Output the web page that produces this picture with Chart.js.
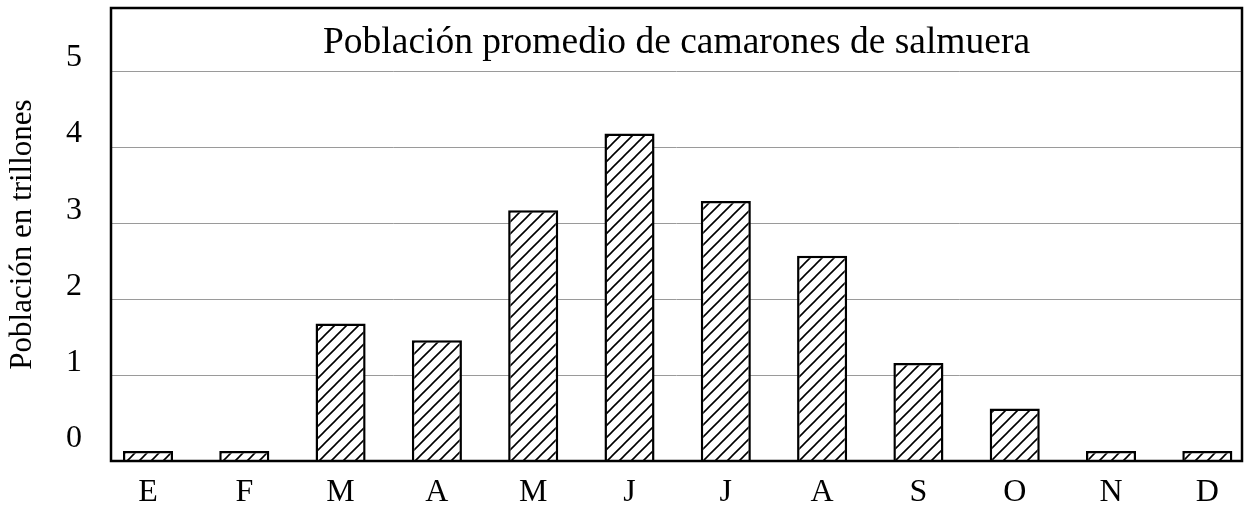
<!DOCTYPE html>
<html>
<head>
<meta charset="utf-8">
<script src="https://cdn.jsdelivr.net/npm/chart.js@4.4.1/dist/chart.umd.min.js"></script>
<style>
  html, body { margin: 0; padding: 0; background: #ffffff; }
  #wrap { width: 1246px; height: 508px; position: relative; }
</style>
</head>
<body>
<div id="wrap"><canvas id="c"></canvas></div>
<script>
// ---- Data ----
const months = ['E', 'F', 'M', 'A', 'M', 'J', 'J', 'A', 'S', 'O', 'N', 'D'];
const population = [0, 0, 1.68, 1.46, 3.17, 4.18, 3.29, 2.57, 1.16, 0.56, 0, 0];
const yTickValues = [0, 1, 2, 3, 4, 5];
const chartTitle = 'Población promedio de camarones de salmuera';
const yTitle = 'Población en trillones';

// ---- Axis ranges ----
const Y_MIN = -0.13, Y_MAX = 5.83;
const X_MIN = -0.384, X_MAX = 11.36;
const FONT = '"Liberation Serif", "Times New Roman", Times, serif';

// hatch pattern
function makeHatch() {
  const s = 12;
  const c = document.createElement('canvas');
  c.width = s; c.height = s;
  const g = c.getContext('2d');
  g.fillStyle = '#ffffff';
  g.fillRect(0, 0, s, s);
  g.strokeStyle = '#000000';
  g.lineWidth = 1.6;
  g.beginPath();
  g.moveTo(-2, s + 2); g.lineTo(s + 2, -2);
  g.moveTo(-2, 2); g.lineTo(2, -2);
  g.moveTo(s - 2, s + 2); g.lineTo(s + 2, s - 2);
  g.stroke();
  return g.createPattern(c, 'repeat');
}

const framePlugin = {
  id: 'frame',
  afterDraw(chart) {
    const { ctx, chartArea: a } = chart;
    ctx.save();
    ctx.strokeStyle = '#000';
    ctx.lineWidth = 2.5;
    ctx.strokeRect(a.left, a.top, a.right - a.left, a.bottom - a.top);
    ctx.fillStyle = '#000';
    ctx.font = '37.5px ' + FONT;
    ctx.textAlign = 'center';
    ctx.textBaseline = 'alphabetic';
    ctx.fillText(chartTitle, (a.left + a.right) / 2, a.top + 45);
    ctx.restore();
  }
};

const ctx = document.getElementById('c').getContext('2d');
new Chart(ctx, {
  type: 'bar',
  data: {
    datasets: [{
      data: population.map((v, i) => ({ x: i, y: v })),
      backgroundColor: makeHatch(),
      borderColor: '#000',
      borderWidth: 2.5,
      base: Y_MIN,
      barPercentage: 0.52,
      categoryPercentage: 1.0
    }]
  },
  options: {
    responsive: true,
    maintainAspectRatio: false,
    animation: false,
    layout: { autoPadding: false, padding: { left: 0, right: 4, top: 8, bottom: 0 } },
    plugins: {
      legend: { display: false },
      title: { display: false },
      tooltip: { enabled: false }
    },
    scales: {
      x: {
        type: 'linear',
        offset: false,
        min: X_MIN,
        max: X_MAX,
        grid: { display: false, drawTicks: false },
        border: { display: false },
        ticks: {
          stepSize: 1,
          includeBounds: false,
          autoSkip: false,
          maxRotation: 0,
          padding: 12,
          color: '#000',
          font: { family: FONT, size: 32 },
          callback: (v) => (Number.isInteger(v) && months[v] !== undefined) ? months[v] : ''
        },
        afterFit(scale) { scale.height = 47; scale.paddingLeft = 0; scale.paddingRight = 0; }
      },
      y: {
        type: 'linear',
        min: Y_MIN,
        max: Y_MAX,
        grid: {
          drawTicks: false,
          lineWidth: 1,
          color: (c) => (c.tick && c.tick.value === 0) ? 'rgba(0,0,0,0)' : '#9a9a9a'
        },
        border: { display: false },
        afterBuildTicks(scale) {
          scale.ticks = yTickValues.map(v => ({ value: v }));
        },
        ticks: {
          stepSize: 1,
          includeBounds: false,
          padding: 29,
          labelOffset: -13,
          color: '#000',
          font: { family: FONT, size: 32 },
          callback: (v) => String(v)
        },
        title: {
          display: true,
          text: yTitle,
          color: '#000',
          font: { family: FONT, size: 31 },
          padding: { top: 4, bottom: 0 }
        },
        afterFit(scale) { scale.width = 111; scale.paddingTop = 0; scale.paddingBottom = 0; }
      }
    }
  },
  plugins: [framePlugin]
});
</script>
</body>
</html>
